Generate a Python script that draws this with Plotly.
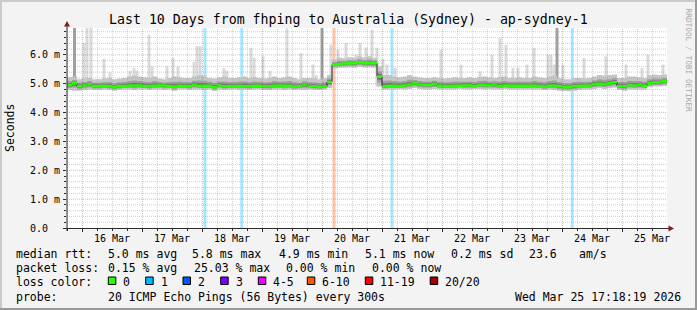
import plotly.graph_objects as go
import pandas as pd

# ---------------- data ----------------
T0 = pd.Timestamp("2026-03-15 17:50:00")   # left edge of the graph (10 days span)
SPAN_H = 240
BIN_H = 2                                  # hours per consolidated step

median = [
    4.96, 5.01, 4.91, 4.94, 4.98, 4.92, 4.91, 4.93, 4.91, 4.88, 4.92, 4.92,
    4.93, 4.94, 4.94, 4.92, 4.91, 4.93, 4.94, 4.94, 4.92, 4.89, 4.93, 4.92,
    4.92, 4.96, 4.92, 4.93, 4.93, 4.88, 4.94, 4.91, 4.91, 4.92, 4.93, 4.91,
    4.91, 4.93, 4.93, 4.91, 4.91, 4.93, 4.94, 4.93, 4.93, 4.90, 4.91, 4.97,
    4.90, 4.91, 4.89, 4.90, 5.06, 5.66, 5.68, 5.70, 5.71, 5.71, 5.74, 5.71,
    5.72, 5.71, 5.25, 4.91, 4.93, 4.93, 4.92, 4.94, 4.97, 5.01, 4.97, 4.96,
    4.96, 4.99, 4.93, 4.92, 4.92, 4.93, 4.93, 4.94, 4.94, 4.92, 4.96, 4.96,
    4.94, 4.97, 4.92, 4.94, 4.93, 4.93, 4.93, 4.93, 4.93, 4.94, 4.92, 4.90,
    4.93, 4.94, 4.91, 4.88, 4.88, 4.91, 4.93, 4.93, 4.94, 4.99, 5.00, 4.99,
    5.01, 5.05, 4.92, 4.91, 4.96, 4.94, 4.97, 4.93, 5.01, 5.04, 5.04, 5.08,
]
smoke_lo = [
    4.78, 4.76, 4.76, 4.78, 4.80, 4.78, 4.78, 4.80, 4.78, 4.76, 4.78, 4.80,
    4.80, 4.78, 4.80, 4.80, 4.78, 4.80, 4.80, 4.78, 4.80, 4.76, 4.80, 4.80,
    4.78, 4.80, 4.80, 4.78, 4.80, 4.75, 4.80, 4.78, 4.80, 4.80, 4.78, 4.80,
    4.78, 4.80, 4.80, 4.78, 4.78, 4.80, 4.80, 4.78, 4.80, 4.78, 4.80, 4.78,
    4.80, 4.78, 4.78, 4.80, 4.85, 5.52, 5.55, 5.55, 5.56, 5.55, 5.58, 5.56,
    5.56, 5.55, 4.90, 4.80, 4.80, 4.80, 4.82, 4.80, 4.82, 4.85, 4.82, 4.80,
    4.80, 4.82, 4.80, 4.80, 4.80, 4.80, 4.82, 4.80, 4.80, 4.82, 4.82, 4.80,
    4.82, 4.80, 4.80, 4.82, 4.80, 4.80, 4.80, 4.80, 4.80, 4.80, 4.80, 4.78,
    4.80, 4.78, 4.76, 4.75, 4.74, 4.76, 4.78, 4.80, 4.80, 4.82, 4.84, 4.82,
    4.84, 4.86, 4.78, 4.76, 4.80, 4.80, 4.80, 4.80, 4.88, 4.90, 4.90, 4.92,
]
smoke_hi = [
    5.22, 5.25, 5.15, 5.18, 5.20, 5.15, 5.15, 5.18, 5.20, 5.15, 5.18, 5.20,
    5.25, 5.28, 5.25, 5.22, 5.20, 5.25, 5.18, 5.15, 5.20, 5.25, 5.22, 5.20,
    5.20, 5.25, 5.30, 5.28, 5.20, 5.18, 5.22, 5.25, 5.20, 5.20, 5.22, 5.25,
    5.20, 5.22, 5.20, 5.18, 5.20, 5.25, 5.20, 5.22, 5.25, 5.20, 5.15, 5.20,
    5.20, 5.18, 5.15, 5.20, 5.30, 5.85, 5.90, 5.88, 5.92, 5.90, 5.95, 5.92,
    5.95, 5.90, 5.60, 5.30, 5.30, 5.25, 5.22, 5.25, 5.30, 5.25, 5.22, 5.20,
    5.20, 5.22, 5.20, 5.18, 5.20, 5.22, 5.20, 5.20, 5.22, 5.20, 5.22, 5.25,
    5.22, 5.20, 5.22, 5.25, 5.20, 5.20, 5.22, 5.20, 5.20, 5.25, 5.22, 5.20,
    5.25, 5.28, 5.20, 5.15, 5.15, 5.20, 5.20, 5.18, 5.20, 5.25, 5.30, 5.28,
    5.30, 5.32, 5.20, 5.20, 5.25, 5.25, 5.22, 5.20, 5.30, 5.32, 5.30, 5.32,
]
# isolated high pings (hours after T0, top in ms)
spike_h = [6.8, 8.0, 9.6, 14.8, 17.2, 25.2, 26.8, 28.0, 32.8, 34.0, 40.0, 42.4,
           44.4, 50.8, 52.0, 53.2, 62.8, 64.0, 73.6, 74.8, 78.4, 81.2, 88.0, 93.6,
           98.4, 99.6, 105.6, 108.4, 111.6, 115.6, 117.2, 119.6, 122.0, 124.0,
           126.4, 128.0, 131.2, 137.2, 149.6, 157.6, 165.2, 170.0, 173.2, 175.6,
           178.4, 180.4, 184.0, 186.8, 192.4, 193.6, 194.8, 198.4, 206.8, 215.6,
           223.6, 230.0, 232.4, 238.4]
spike_top = [6.41, 6.94, 6.94, 5.86, 5.39, 5.45, 5.55, 5.45, 6.70, 5.60, 5.60, 5.90,
             5.60, 5.75, 6.30, 6.30, 5.54, 5.45, 6.24, 5.90, 5.95, 5.45, 6.92, 6.06,
             5.66, 5.30, 6.35, 6.18, 6.41, 6.00, 6.41, 6.25, 6.87, 6.25,
             5.86, 5.66, 5.55, 5.30, 6.18, 5.66, 5.43, 6.00, 6.58, 6.35,
             5.55, 5.55, 5.66, 6.24, 6.00, 6.00, 5.66, 5.66, 5.89, 5.95,
             5.66, 5.55, 6.00, 5.66]
# time slots where most pings were high (dark smoke up to the top)
dark_h = [3.0, 102.0, 196.0]
dark_top = [6.93, 6.93, 6.93]
# packet loss events (hours after T0, loss class)
loss_h = [55.2, 69.9, 106.8, 130.0, 202.1]
loss_cls = ["1", "1", "6-10", "1", "1"]

loss_classes = ["0", "1", "2", "3", "4-5", "6-10", "11-19", "20/20"]
loss_colors = ["#26ff00", "#00b8ff", "#0059ff", "#7e00ff", "#ee00ff", "#ff5500", "#ff0000", "#a10000"]

day_labels = ["16 Mar", "17 Mar", "18 Mar", "19 Mar", "20 Mar",
              "21 Mar", "22 Mar", "23 Mar", "24 Mar", "25 Mar"]
ytick_vals = [0, 1, 2, 3, 4, 5, 6]
ytick_text = ["0.0", "1.0 m", "2.0 m", "3.0 m", "4.0 m", "5.0 m", "6.0 m"]
Y_MAX = 6.93

title = "Last 10 Days from fhping to Australia (Sydney) - ap-sydney-1"
legend_rtt = [("median rtt:", 16.4), ("5.0 ms avg", 107.6), ("5.8 ms max", 192.4),
              ("4.9 ms min", 279), ("5.1 ms now", 365), ("0.2 ms sd", 451),
              ("23.6", 529), ("am/s", 579)]
legend_loss = [("packet loss:", 16.4), ("0.15 % avg", 107.6), ("25.03 % max", 193.8),
               ("0.00 % min", 286), ("0.00 % now", 371.6)]
probe_text = "20 ICMP Echo Pings (56 Bytes) every 300s"
stamp_text = "Wed Mar 25 17:18:19 2026"

# ---------------- geometry ----------------
W, H = 697, 310
PL, PR, PT, PB = 67, 667, 28, 228
MONO = "DejaVu Sans Mono"


def xp(px):
    return (px - PL) / (PR - PL)


def yp(py):
    return (PB - py) / (PB - PT)


def t(h):
    return T0 + pd.Timedelta(hours=h)


def lighten(hexc, a=0.35):
    r, g, b = int(hexc[1:3], 16), int(hexc[3:5], 16), int(hexc[5:7], 16)
    return "rgb(%d,%d,%d)" % tuple(round(255 - (255 - c) * a) for c in (r, g, b))


n = len(median)
edges = [t(BIN_H * k) for k in range(n + 1)]


def step(v):
    return list(v) + [v[-1]]


def bin_of(h):
    return min(int(h // BIN_H), n - 1)


fig = go.Figure()


def band(lo, hi, color):
    fig.add_trace(go.Scatter(x=edges, y=step(lo), mode="lines", line=dict(width=0, shape="hv"),
                             hoverinfo="skip", showlegend=False))
    fig.add_trace(go.Scatter(x=edges, y=step(hi), mode="lines", line=dict(width=0, shape="hv"),
                             fill="tonexty", fillcolor=color, hoverinfo="skip", showlegend=False))


HOUR_MS = 3600 * 1000
# light spikes
fig.add_trace(go.Bar(x=[t(h) for h in spike_h],
                     base=[smoke_lo[bin_of(h)] for h in spike_h],
                     y=[top - smoke_lo[bin_of(h)] for h, top in zip(spike_h, spike_top)],
                     width=1.2 * HOUR_MS, marker=dict(color="#dadada", line=dict(width=0)),
                     showlegend=False, hoverinfo="skip"))
# dark spikes
fig.add_trace(go.Bar(x=[t(h) for h in dark_h],
                     base=[median[bin_of(h)] for h in dark_h],
                     y=[top - median[bin_of(h)] for h, top in zip(dark_h, dark_top)],
                     width=1.2 * HOUR_MS, marker=dict(color="#a0a0a0", line=dict(width=0)),
                     showlegend=False, hoverinfo="skip"))

# smoke cloud, lighter outside, darker towards the median
band(smoke_lo, smoke_hi, "#c6c6c6")
band([m - 0.6 * (m - l) for m, l in zip(median, smoke_lo)],
     [m + 0.5 * (h - m) for m, h in zip(median, smoke_hi)], "#a0a0a0")
band([m - 0.32 * (m - l) for m, l in zip(median, smoke_lo)],
     [m + 0.25 * (h - m) for m, h in zip(median, smoke_hi)], "#727272")

# median line + loss coloured band
fig.add_trace(go.Scatter(x=edges, y=step(median), mode="lines",
                         line=dict(color="#202020", width=1, shape="hv"),
                         hoverinfo="skip", showlegend=False))
SW = 0.045
band([m - SW for m in median], [m + SW for m in median], loss_colors[0])
fig.add_trace(go.Bar(x=[t(h) for h in loss_h],
                     base=[median[bin_of(h)] - SW for h in loss_h],
                     y=[2 * SW] * len(loss_h),
                     width=1.2 * HOUR_MS,
                     marker=dict(color=[loss_colors[loss_classes.index(c)] for c in loss_cls],
                                 line=dict(width=0)),
                     showlegend=False, hoverinfo="skip"))

shapes = []
# loss background bars
for h, c in zip(loss_h, loss_cls):
    shapes.append(dict(type="rect", xref="x", yref="paper", x0=t(h - 0.6), x1=t(h + 0.6),
                       y0=0, y1=1, fillcolor=lighten(loss_colors[loss_classes.index(c)]),
                       line=dict(width=0), layer="below"))

# grid (drawn on top, like rrdtool)
GRID = "rgba(150,150,150,0.45)"
MGRID = "rgba(255,40,40,0.42)"
DASH = "1px,1px"
first_mid = pd.Timestamp("2026-03-16 00:00:00")
for k in range(-1, 41):
    g = first_mid + pd.Timedelta(hours=6 * k)
    if g <= T0 or g >= t(SPAN_H):
        continue
    col = MGRID if k % 4 == 0 else GRID
    shapes.append(dict(type="line", xref="x", yref="paper", x0=g, x1=g, y0=0, y1=1,
                       line=dict(color=col, width=1, dash=DASH), layer="above"))
for k in range(1, 35):
    v = k * 0.2
    if v > Y_MAX:
        break
    col = MGRID if k % 5 == 0 else GRID
    shapes.append(dict(type="line", xref="paper", yref="y", x0=0, x1=1, y0=v, y1=v,
                       line=dict(color=col, width=1, dash=DASH), layer="above"))

# axes with arrows
AX = "#2c2c2c"
shapes.append(dict(type="line", xref="paper", yref="paper", x0=xp(67), x1=xp(67),
                   y0=yp(231), y1=yp(25), line=dict(color=AX, width=1)))
shapes.append(dict(type="line", xref="paper", yref="paper", x0=xp(64), x1=xp(669),
                   y0=yp(228.5), y1=yp(228.5), line=dict(color=AX, width=1)))
ARROW = "#7f1f1f"
shapes.append(dict(type="path", xref="paper", yref="paper", fillcolor=ARROW, line=dict(width=0),
                   path="M %f %f L %f %f L %f %f Z" % (xp(64), yp(26.5), xp(70), yp(26.5), xp(67), yp(21))))
shapes.append(dict(type="path", xref="paper", yref="paper", fillcolor=ARROW, line=dict(width=0),
                   path="M %f %f L %f %f L %f %f Z" % (xp(668.5), yp(225.5), xp(668.5), yp(231.5), xp(674), yp(228.5))))

# 3D frame
for (x0, x1, y0, y1, c) in [(0, W, 0, 2, "#cbcbcb"), (0, 2, 0, H, "#cbcbcb"),
                            (0, W, H - 2, H, "#999999"), (W - 2, W, 0, H, "#999999")]:
    shapes.append(dict(type="rect", xref="paper", yref="paper", x0=xp(x0), x1=xp(x1),
                       y0=yp(y1), y1=yp(y0), fillcolor=c, line=dict(width=0)))

# legend colour boxes
box_x = [108.3, 145.7, 183, 220.7, 258.3, 307.3, 365.3, 430.2]
for bx, c in zip(box_x, loss_colors):
    shapes.append(dict(type="rect", xref="paper", yref="paper", x0=xp(bx), x1=xp(bx + 7.5),
                       y0=yp(284.5), y1=yp(277), fillcolor=c, line=dict(color="black", width=1)))

ann = []


def txt(s, x, y, size, xanchor="left", color="black", angle=0, xref="paper"):
    ann.append(dict(text=s, x=xp(x) if xref == "paper" else x, y=yp(y), xref=xref, yref="paper",
                    showarrow=False, xanchor=xanchor, yanchor="middle", textangle=angle,
                    borderpad=0, borderwidth=0,
                    font=dict(family=MONO, size=size, color=color)))


txt(title, W / 2, 19, 13.25, xanchor="center")
txt("Seconds", 10, 128, 11.5, xanchor="center", angle=-90)
txt("RRDTOOL / TOBI OETIKER", 688.5, 60, 7.8, xanchor="center", color="#a8a8a8", angle=90)
for v, s in zip(ytick_vals, ytick_text):
    txt(s, 30, PB - v / Y_MAX * (PB - PT), 10)
for d, s in enumerate(day_labels):
    txt(s, first_mid + pd.Timedelta(hours=24 * d + 12), 238, 10, xanchor="center", xref="x")
for s, x in legend_rtt:
    txt(s, x, 254, 11.5)
for s, x in legend_loss:
    txt(s, x, 268, 11.5)
txt("loss color:", 16.4, 282, 11.5)
for bx, s in zip(box_x, loss_classes):
    txt(s, bx + 15, 282, 11.5)
txt("probe:", 16.4, 296.5, 11.5)
txt(probe_text, 107.6, 296.5, 11.5)
txt(stamp_text, 680.5, 296.5, 11.5, xanchor="right")

fig.update_layout(
    width=W, height=H,
    margin=dict(l=PL, r=W - PR, t=PT, b=H - PB, pad=0),
    paper_bgcolor="#f3f3f3", plot_bgcolor="#ffffff",
    barmode="overlay", showlegend=False,
    shapes=shapes, annotations=ann,
    xaxis=dict(type="date", range=[T0, t(SPAN_H)], showgrid=False, zeroline=False,
               showline=False, showticklabels=False, ticks="outside", ticklen=3,
               tickcolor=AX, tickmode="array",
               tickvals=[first_mid + pd.Timedelta(days=d) for d in range(10)],
               minor=dict(ticks="outside", ticklen=2, tickcolor=AX, tickmode="array",
                          tickvals=[first_mid + pd.Timedelta(hours=6 * k) for k in range(-1, 40)
                                    if k % 4 != 0], showgrid=False),
               fixedrange=True),
    yaxis=dict(range=[0, Y_MAX], showgrid=False, zeroline=False, showline=False,
               showticklabels=False, ticks="outside", ticklen=3, tickcolor=AX,
               tickmode="array", tickvals=ytick_vals,
               minor=dict(ticks="outside", ticklen=2, tickcolor=AX, tickmode="array",
                          tickvals=[k * 0.2 for k in range(1, 35) if k % 5 != 0],
                          showgrid=False),
               fixedrange=True),
)

fig.write_html("out.html", config={"displayModeBar": False})
